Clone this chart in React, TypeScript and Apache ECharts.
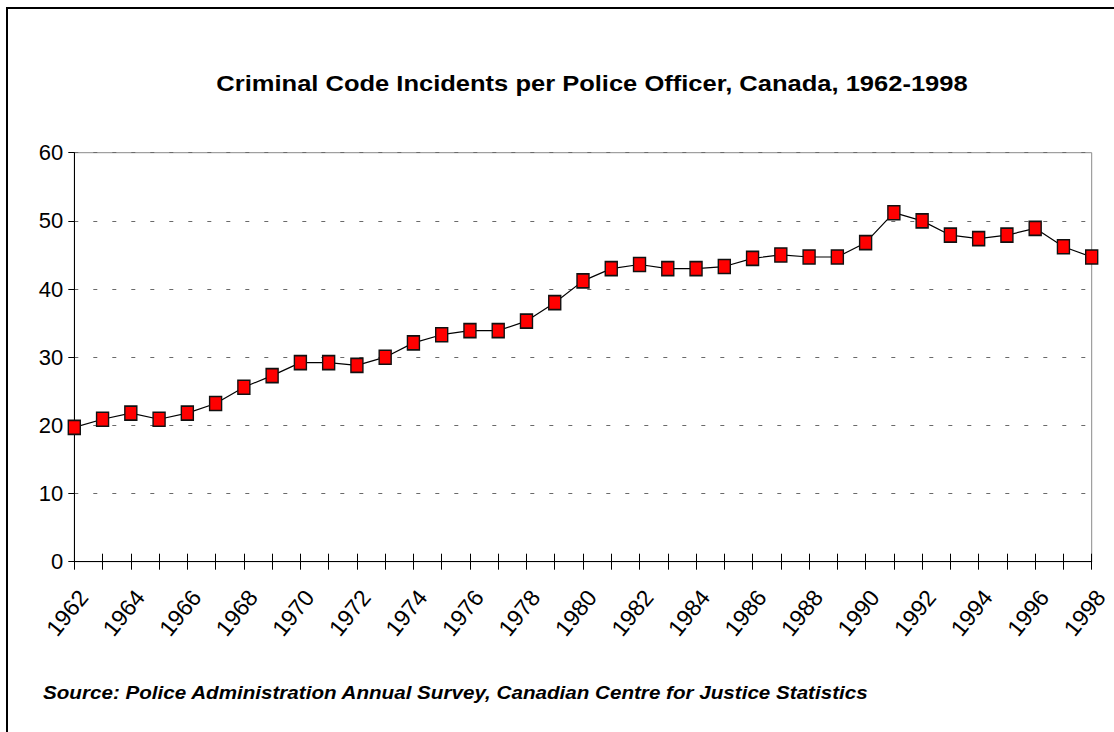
import React, { useEffect, useRef } from "react";
import * as echarts from "echarts";

const years: string[] = [
  "1962", "1963", "1964", "1965", "1966", "1967", "1968", "1969", "1970", "1971",
  "1972", "1973", "1974", "1975", "1976", "1977", "1978", "1979", "1980", "1981",
  "1982", "1983", "1984", "1985", "1986", "1987", "1988", "1989", "1990", "1991",
  "1992", "1993", "1994", "1995", "1996", "1997", "1998",
];

const incidentsPerOfficer: number[] = [
  19.7, 20.9, 21.8, 20.9, 21.8, 23.2, 25.6, 27.3, 29.2, 29.2,
  28.8, 30.0, 32.1, 33.3, 33.9, 33.9, 35.3, 38.0, 41.2, 43.0,
  43.6, 43.0, 43.0, 43.3, 44.5, 45.0, 44.7, 44.7, 46.8, 51.2,
  50.0, 47.9, 47.4, 47.9, 48.9, 46.2, 44.7,
];

const titleText = "Criminal Code Incidents per Police Officer, Canada, 1962-1998";
const sourceText =
  "Source: Police Administration Annual Survey, Canadian Centre for Justice Statistics";

const yMin = 0;
const yMax = 60;
const yInterval = 10;

export default function App() {
  const ref = useRef<HTMLDivElement>(null);

  useEffect(() => {
    if (!ref.current) return;
    const chart = echarts.init(ref.current, null, { renderer: "svg" });
    const font = "'Liberation Sans', Arial, sans-serif";
    chart.setOption({
      animation: false,
      backgroundColor: "#ffffff",
      grid: {
        left: 74.3,
        right: 22.3,
        top: 152.7,
        bottom: 170.3,
        show: true,
        borderColor: "#8a8a8a",
        borderWidth: 1,
        backgroundColor: "transparent",
      },
      xAxis: [
        {
          type: "category",
          data: years,
          boundaryGap: false,
          axisLine: { show: true, lineStyle: { color: "#000", width: 1 } },
          axisTick: {
            show: true,
            interval: 0,
            length: 8,
            lineStyle: { color: "#000", width: 1 },
          },
          axisLabel: {
            interval: 1,
            rotate: 51,
            margin: 24,
            verticalAlign: "top",
            color: "#000",
            fontSize: 23,
            fontFamily: font,
          },
          splitLine: { show: false },
        },
        {
          type: "category",
          data: years,
          boundaryGap: false,
          position: "bottom",
          axisLine: { show: false },
          axisTick: {
            show: true,
            inside: true,
            interval: 0,
            length: 8,
            lineStyle: { color: "#000", width: 1 },
          },
          axisLabel: { show: false },
          splitLine: { show: false },
        },
      ],
      yAxis: {
        type: "value",
        min: yMin,
        max: yMax,
        interval: yInterval,
        axisLine: { show: true, lineStyle: { color: "#000", width: 1 } },
        axisTick: { show: true, length: 6, lineStyle: { color: "#000", width: 1 } },
        axisLabel: {
          margin: 11,
          color: "#000",
          fontSize: 22,
          fontFamily: font,
        },
        splitLine: {
          show: true,
          lineStyle: { color: "#6a6a6a", width: 1, type: [4, 15] },
        },
      },
      series: [
        {
          type: "line",
          xAxisIndex: 0,
          data: incidentsPerOfficer,
          symbol: "rect",
          symbolSize: [12, 14],
          lineStyle: { color: "#000", width: 1.2 },
          itemStyle: { color: "#ff0000", borderColor: "#111", borderWidth: 1.5 },
          z: 5,
        },
      ],
      graphic: [
        {
          type: "rect",
          silent: true,
          shape: { x: 7, y: 8, width: 1300, height: 900 },
          style: { fill: "none", stroke: "#000", lineWidth: 2 },
        },
        {
          type: "text",
          silent: true,
          x: 592,
          y: 83,
          scaleX: 1.16,
          style: {
            text: titleText,
            fill: "#000",
            font: `bold 22px ${font}`,
            textAlign: "center",
            textVerticalAlign: "middle",
          },
        },
        {
          type: "text",
          silent: true,
          x: 43,
          y: 692,
          scaleX: 1.146,
          style: {
            text: sourceText,
            fill: "#000",
            font: `italic bold 18px ${font}`,
            textAlign: "left",
            textVerticalAlign: "middle",
          },
        },
      ],
    });
    return () => chart.dispose();
  }, []);

  return (
    <div
      ref={ref}
      style={{ position: "fixed", left: 0, top: 0, width: 1114, height: 732 }}
    />
  );
}
